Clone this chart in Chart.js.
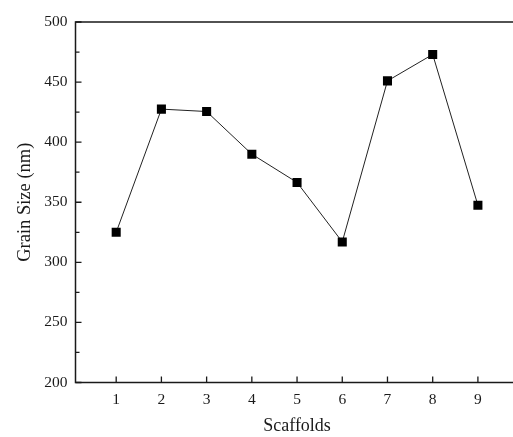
<!DOCTYPE html>
<html>
<head>
<meta charset="utf-8">
<script src="https://cdn.jsdelivr.net/npm/chart.js@4.4.1/dist/chart.umd.min.js"></script>
<style>
  html, body { margin: 0; padding: 0; background: #fff; overflow: hidden; }
  #wrap { width: 525px; height: 437px; }
</style>
</head>
<body>
<div id="wrap"><canvas id="grainChart" width="525" height="437"></canvas></div>
<script>
// ================= DATA =================
const scaffolds = [1, 2, 3, 4, 5, 6, 7, 8, 9];
const grainSize = [325, 427.5, 425.5, 390, 366.5, 317, 451, 473, 347.5];
const yMajorTicks = [200, 250, 300, 350, 400, 450, 500];
const yMinorTicks = [225, 275, 325, 375, 425, 475];

const ink = "#1a1a1a";

// frame + inward tick marks, placed through the chart's own scales
const frameTicks = {
  id: "frameTicks",
  afterDraw(chart) {
    const { ctx, chartArea: a, scales } = chart;
    ctx.save();
    ctx.strokeStyle = ink;
    ctx.lineWidth = 1.5;
    ctx.strokeRect(a.left, a.top, a.right - a.left, a.bottom - a.top);

    ctx.lineWidth = 1.3;
    ctx.beginPath();
    yMajorTicks.forEach(v => {
      const y = scales.y.getPixelForValue(v);
      ctx.moveTo(a.left, y); ctx.lineTo(a.left + 6, y);
    });
    yMinorTicks.forEach(v => {
      const y = scales.y.getPixelForValue(v);
      ctx.moveTo(a.left, y); ctx.lineTo(a.left + 4, y);
    });
    scaffolds.forEach(v => {
      const x = scales.x.getPixelForValue(v);
      ctx.moveTo(x, a.bottom); ctx.lineTo(x, a.bottom - 6);
    });
    ctx.stroke();
    ctx.restore();
  }
};

const ctx = document.getElementById("grainChart");

new Chart(ctx.getContext("2d"), {
  type: "line",
  data: {
    datasets: [
      {
        label: "Grain Size",
        data: scaffolds.map((s, i) => ({ x: s, y: grainSize[i] })),
        borderColor: "#222",
        borderWidth: 1,
        tension: 0,
        pointStyle: "rect",
        pointRadius: 6.4,
        pointBackgroundColor: "#000",
        pointBorderColor: "#000",
        pointBorderWidth: 0
      }
    ]
  },
  options: {
    responsive: false,
    animation: false,
    layout: { padding: { top: 22, right: 5, left: 0, bottom: 0 } },
    plugins: {
      legend: { display: false },
      tooltip: { enabled: false }
    },
    scales: {
      x: {
        type: "linear",
        min: 0.1,
        max: 9.9,
        afterBuildTicks: (scale) => {
          scale.ticks = scaffolds.map(v => ({ value: v }));
        },
        afterFit: (scale) => { scale.height = 54.5; },
        grid: { display: false, drawTicks: false },
        border: { display: false },
        ticks: {
          color: ink,
          padding: 8,
          maxRotation: 0,
          font: { family: "Liberation Serif", size: 15.5 }
        },
        title: {
          display: true,
          text: "Scaffolds",
          color: ink,
          padding: { top: 4, bottom: 0 },
          font: { family: "Liberation Serif", size: 18 }
        }
      },
      y: {
        min: 200,
        max: 500,
        afterBuildTicks: (scale) => {
          scale.ticks = yMajorTicks.map(v => ({ value: v }));
        },
        afterFit: (scale) => { scale.width = 75.5; },
        grid: { display: false, drawTicks: false },
        border: { display: false },
        ticks: {
          color: ink,
          padding: 8,
          font: { family: "Liberation Serif", size: 15.5 }
        },
        title: {
          display: true,
          text: "Grain Size (nm)",
          color: ink,
          padding: { top: 14, bottom: 0 },
          font: { family: "Liberation Serif", size: 18.5 }
        }
      }
    }
  },
  plugins: [frameTicks]
});
</script>
</body>
</html>
